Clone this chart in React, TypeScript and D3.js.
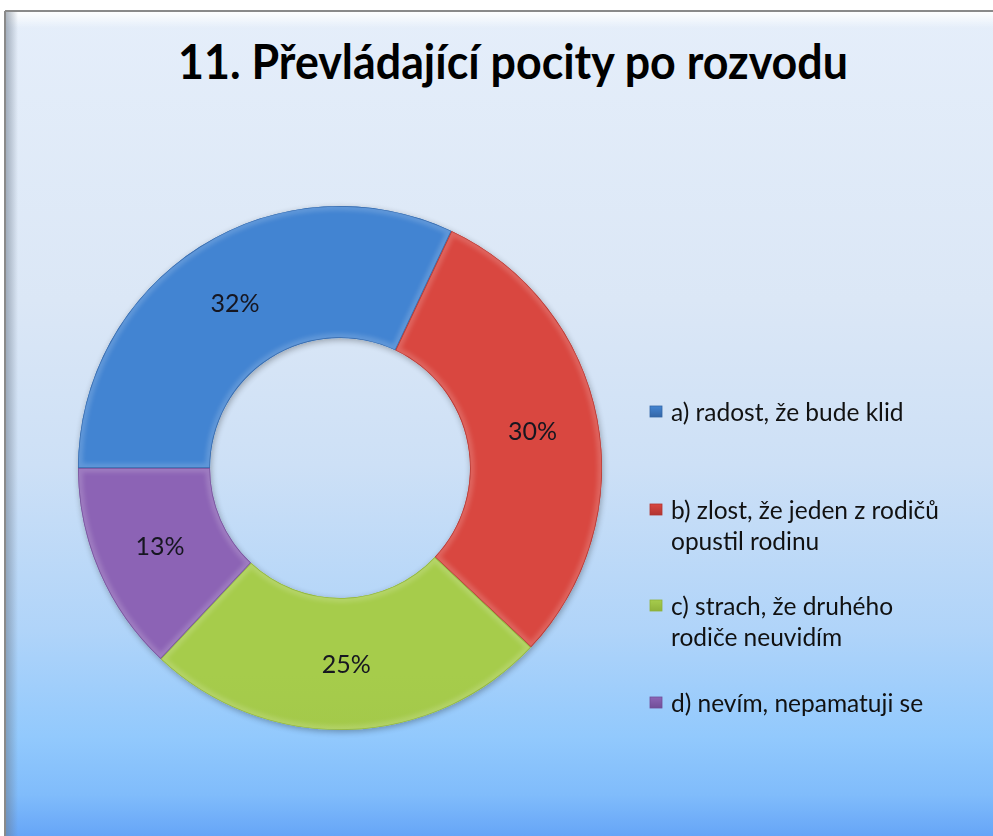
import React from "react";
import * as d3 from "d3";

const categories = [
  "a) radost, že bude klid",
  "b) zlost, že jeden z rodičů opustil rodinu",
  "c) strach, že druhého rodiče neuvidím",
  "d) nevím, nepamatuji se",
];
const values = [32, 30, 25, 13];
const legendLines = [
  ["a) radost, že bude klid"],
  ["b) zlost, že jeden z rodičů"],
  ["c) strach, že druhého"],
  ["d) nevím, nepamatuji se"],
];
const legendLines2 = [[], ["opustil rodinu"], ["rodiče neuvidím"], []];
const legendY = [421, 519, 615, 712];
const title = "11. Převládající pocity po rozvodu";
const colorsLight = ["#4384d2", "#d9463f", "#a6cc4c", "#8c64b5"];
const colorsDark = ["#3466a6", "#b13531", "#8fb23b", "#714e97"];

const W = 993;
const H = 836;
const cx = 340;
const cy = 468;
const rOuter = 262;
const rInner = 130;

export default function App() {
  const pie = d3
    .pie<number>()
    .sort(null)
    .startAngle(-Math.PI / 2)
    .endAngle((3 * Math.PI) / 2);
  const arcs = pie(values);
  const arc = d3.arc<d3.PieArcDatum<number>>().innerRadius(rInner).outerRadius(rOuter);
  const font = "Lato, 'Open Sans', sans-serif";

  return (
    <svg
      width={W}
      height={H}
      style={{ position: "absolute", left: 0, top: 0 }}
      xmlns="http://www.w3.org/2000/svg"
    >
      <defs>
        <linearGradient id="bg" x1="0" y1="11" x2="0" y2={H} gradientUnits="userSpaceOnUse">
          <stop offset="0" stopColor="#e5eefa" />
          <stop offset="0.35" stopColor="#dbe7f6" />
          <stop offset="0.55" stopColor="#cde0f6" />
          <stop offset="0.75" stopColor="#b0d4f9" />
          <stop offset="0.88" stopColor="#92c9fd" />
          <stop offset="0.95" stopColor="#80bcfb" />
          <stop offset="1" stopColor="#66a5f7" />
        </linearGradient>
        <linearGradient id="topHi" x1="0" y1="0" x2="0" y2="1">
          <stop offset="0" stopColor="#ffffff" stopOpacity="0.95" />
          <stop offset="1" stopColor="#ffffff" stopOpacity="0" />
        </linearGradient>
        <linearGradient id="leftSh" x1="0" y1="0" x2="1" y2="0">
          <stop offset="0" stopColor="#6f7c8c" stopOpacity="0.55" />
          <stop offset="1" stopColor="#6f7c8c" stopOpacity="0" />
        </linearGradient>
        {arcs.map((a, i) => (
          <linearGradient
            key={i}
            id={`g${i}`}
            x1="0"
            y1={cy - rOuter}
            x2="0"
            y2={cy + rOuter}
            gradientUnits="userSpaceOnUse"
          >
            <stop offset="0" stopColor={colorsLight[i]} />
            <stop offset="1" stopColor={colorsDark[i]} />
          </linearGradient>
        ))}
        {arcs.map((a, i) => (
          <linearGradient key={i} id={`lg${i}`} x1="0" y1="0" x2="0" y2="1">
            <stop offset="0" stopColor={colorsLight[i]} />
            <stop offset="1" stopColor={colorsDark[i]} />
          </linearGradient>
        ))}
        {arcs.map((a, i) => (
          <clipPath key={i} id={`c${i}`}>
            <path d={arc(a) || ""} transform={`translate(${cx},${cy})`} />
          </clipPath>
        ))}
        <filter id="blur3" x="-10%" y="-10%" width="120%" height="120%">
          <feGaussianBlur stdDeviation="2" />
        </filter>
        <filter id="shadow" x="-20%" y="-20%" width="140%" height="140%">
          <feGaussianBlur in="SourceAlpha" stdDeviation="3" />
          <feOffset dx="1" dy="2" result="b" />
          <feComponentTransfer>
            <feFuncA type="linear" slope="0.3" />
          </feComponentTransfer>
          <feMerge>
            <feMergeNode />
            <feMergeNode in="SourceGraphic" />
          </feMerge>
        </filter>
      </defs>

      {/* background frame */}
      <rect x={0} y={0} width={W} height={H} fill="#ffffff" />
      <rect x={5} y={11} width={W - 5} height={H - 11} fill="url(#bg)" />
      <rect x={6} y={12} width={W - 6} height={16} fill="url(#topHi)" />
      <rect x={6} y={12} width={12} height={H - 12} fill="url(#leftSh)" />
      <line x1={5} y1={11} x2={W} y2={11} stroke="#8a8a8a" strokeWidth={2} />
      <line x1={5} y1={11} x2={5} y2={H} stroke="#8a8a8a" strokeWidth={2} />

      {/* title */}
      <text
        x={513}
        y={79}
        textAnchor="middle"
        fontFamily={font}
        fontWeight="bold"
        fontSize={48}
        fill="#000"
        textLength={670}
        lengthAdjust="spacingAndGlyphs"
      >
        {title}
      </text>

      {/* donut */}
      <g filter="url(#shadow)">
        {arcs.map((a, i) => (
          <path
            key={i}
            d={arc(a) || ""}
            transform={`translate(${cx},${cy})`}
            fill={`url(#g${i})`}
          />
        ))}
      </g>
      {arcs.map((a, i) => (
        <g key={i} clipPath={`url(#c${i})`}>
          <path
            d={arc(a) || ""}
            transform={`translate(${cx},${cy})`}
            fill="none"
            stroke="#ffffff"
            strokeOpacity={0.16}
            strokeWidth={9}
            filter="url(#blur3)"
          />
          <path
            d={arc(a) || ""}
            transform={`translate(${cx},${cy})`}
            fill="none"
            stroke={colorsDark[i]}
            strokeOpacity={0.9}
            strokeWidth={1.5}
          />
        </g>
      ))}

      {/* data labels */}
      {arcs.map((a, i) => {
        const [x, y] = arc.centroid(a);
        return (
          <text
            key={i}
            x={cx + x}
            y={cy + y}
            dy="0.36em"
            textAnchor="middle"
            fontFamily={font}
            fontSize={25}
            fill="#161620"
          >
            {`${values[i]}%`}
          </text>
        );
      })}

      {/* legend */}
      {categories.map((c, i) => (
        <g key={i}>
          <rect
            x={650}
            y={legendY[i] - 15}
            width={12}
            height={11}
            fill={`url(#lg${i})`}
            stroke={colorsDark[i]}
            strokeWidth={0.8}
          />
          {legendLines[i].concat(legendLines2[i]).map((ln, j) => (
            <text
              key={j}
              x={671}
              y={legendY[i] + j * 31}
              fontFamily={font}
              fontSize={24.5}
              fill="#111"
            >
              {ln}
            </text>
          ))}
        </g>
      ))}
    </svg>
  );
}
